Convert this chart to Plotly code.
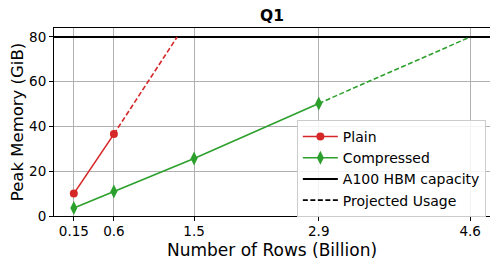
import plotly.graph_objects as go

rows_plain = [0.15, 0.6]
mem_plain = [10.0, 36.6]
proj_plain_x = [0.6, 1.31]
proj_plain_y = [36.6, 80]

rows_comp = [0.15, 0.6, 1.5, 2.9]
mem_comp = [3.6, 11.0, 25.7, 50.3]
proj_comp_x = [2.9, 4.6]
proj_comp_y = [50.3, 80]

hbm_capacity = 80
x_ticks = [0.15, 0.6, 1.5, 2.9, 4.6]
x_tick_labels = ["0.15", "0.6", "1.5", "2.9", "4.6"]
y_ticks = [0, 20, 40, 60, 80]

RED = "#d62728"
GREEN = "#2ca02c"
FONT = "DejaVu Sans"
DASH = "5px,2.5px"

fig = go.Figure()

xr = [-0.0725, 4.8225]
fig.add_trace(go.Scatter(x=xr, y=[hbm_capacity, hbm_capacity], mode="lines",
                         line=dict(color="black", width=2), name="A100 HBM capacity",
                         legendrank=3))
fig.add_trace(go.Scatter(x=proj_plain_x, y=proj_plain_y, mode="lines",
                         line=dict(color=RED, width=1.6, dash=DASH), showlegend=False))
fig.add_trace(go.Scatter(x=proj_comp_x, y=proj_comp_y, mode="lines",
                         line=dict(color=GREEN, width=1.6, dash=DASH), showlegend=False))
fig.add_trace(go.Scatter(x=rows_plain, y=mem_plain, mode="lines+markers",
                         line=dict(color=RED, width=1.6),
                         marker=dict(symbol="circle", size=8, color=RED),
                         name="Plain", legendrank=1))
fig.add_trace(go.Scatter(x=rows_comp, y=mem_comp, mode="lines+markers",
                         line=dict(color=GREEN, width=1.6),
                         marker=dict(symbol="diamond-tall", size=10, color=GREEN),
                         name="Compressed", legendrank=2))
fig.add_trace(go.Scatter(x=[None], y=[None], mode="lines",
                         line=dict(color="black", width=1.6, dash=DASH),
                         name="Projected Usage", legendrank=4))

fig.update_layout(
    width=498, height=266,
    margin=dict(l=46, r=16, t=20, b=58, autoexpand=False),
    paper_bgcolor="white", plot_bgcolor="white",
    font=dict(family=FONT, size=13, color="black"),
    title=dict(text="<b>Q1</b>", x=0.5, xref="paper", xanchor="center",
               y=1, yref="paper", yanchor="bottom", pad=dict(b=7),
               font=dict(family=FONT, size=15.5, color="black")),
    showlegend=True,
    legend=dict(x=0.557, y=0.511, xanchor="left", yanchor="top",
                bgcolor="rgba(255,255,255,0.85)", bordercolor="#cccccc", borderwidth=1,
                font=dict(family=FONT, size=14), tracegroupgap=0, itemwidth=35),
)
fig.update_xaxes(range=xr, tickvals=x_ticks, ticktext=x_tick_labels, automargin=False,
                 showgrid=True, gridcolor="#b0b0b0", gridwidth=1,
                 showline=True, linecolor="black", linewidth=1, mirror=True,
                 ticks="outside", ticklen=4, tickcolor="black", ticklabelstandoff=-1,
                 tickfont=dict(family=FONT, size=13.5), zeroline=False,
                 title=dict(text="Number of Rows (Billion)", font=dict(family=FONT, size=17), standoff=5))
fig.update_yaxes(range=[0, 84], tickvals=y_ticks, automargin=False,
                 showgrid=True, gridcolor="#b0b0b0", gridwidth=1,
                 showline=True, linecolor="black", linewidth=1, mirror=True,
                 ticks="outside", ticklen=4, tickcolor="black",
                 tickfont=dict(family=FONT, size=13.5), zeroline=False,
                 title=dict(text="Peak Memory (GiB)", font=dict(family=FONT, size=16.5), standoff=4))

fig.write_html("out.html")
